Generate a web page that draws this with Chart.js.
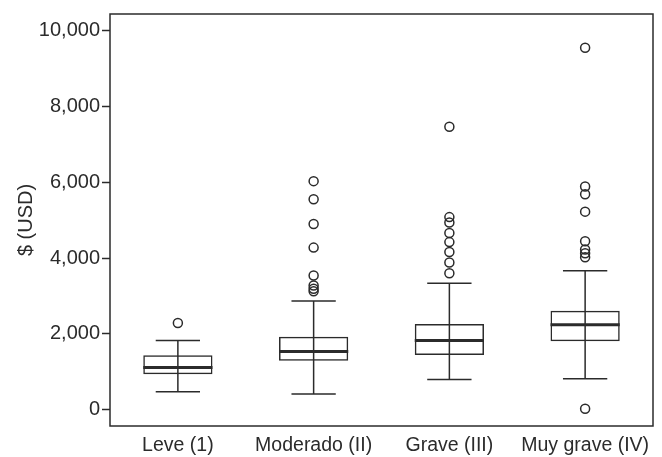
<!DOCTYPE html>
<html>
<head>
<meta charset="utf-8">
<script src="https://cdn.jsdelivr.net/npm/chart.js@4.4.0/dist/chart.umd.min.js"></script>
<style>
  html, body { margin: 0; padding: 0; background: #fff; }
  #wrap { width: 662px; height: 457px; }
</style>
</head>
<body>
<div id="wrap"><canvas id="myChart"></canvas></div>
<script>
const categories = ['Leve (1)', 'Moderado (II)', 'Grave (III)', 'Muy grave (IV)'];
const whiskerLow = [470, 410, 790, 815];
const q1 = [930, 1285, 1440, 1805];
const median = [1110, 1530, 1825, 2240];
const q3 = [1430, 1920, 2255, 2605];
const whiskerHigh = [1825, 2865, 3335, 3665];

const leveOut = [2285];
const moderadoOut = [6030, 5550, 4900, 4275, 3540, 3275, 3190, 3120];
const graveOut = [7465, 5080, 4940, 4660, 4420, 4160, 3880, 3600];
const muyGraveOut = [9550, 5890, 5685, 5225, 4445, 4225, 4125, 4020, 20];

const yTicks = [0, 2000, 4000, 6000, 8000, 10000];

const ink = '#2b2b2b';
const font = "'Liberation Sans', Arial, sans-serif";

// outlier points as {x: category, y: value}
const outlierLists = [leveOut, moderadoOut, graveOut, muyGraveOut];
const outlierPoints = [];
outlierLists.forEach((list, i) => {
  list.forEach(v => outlierPoints.push({ x: categories[i], y: v }));
});

// whiskers, caps and medians drawn with the chart's own scales
const boxExtras = {
  id: 'boxExtras',
  beforeDatasetsDraw(chart) {
    const ctx = chart.ctx;
    const xs = chart.scales.x;
    const ys = chart.scales.y;
    const bars = chart.getDatasetMeta(0).data;
    ctx.save();
    ctx.strokeStyle = ink;
    ctx.lineWidth = 1.5;
    categories.forEach((c, i) => {
      const x = xs.getPixelForValue(i);
      const capHalf = bars[i].width * 0.32;
      const top = ys.getPixelForValue(whiskerHigh[i]);
      const bot = ys.getPixelForValue(whiskerLow[i]);
      ctx.beginPath();
      ctx.moveTo(x, top);
      ctx.lineTo(x, bot);
      ctx.moveTo(x - capHalf, top);
      ctx.lineTo(x + capHalf, top);
      ctx.moveTo(x - capHalf, bot);
      ctx.lineTo(x + capHalf, bot);
      ctx.stroke();
    });
    ctx.restore();
  },
  afterDatasetsDraw(chart) {
    const ctx = chart.ctx;
    const xs = chart.scales.x;
    const ys = chart.scales.y;
    const bars = chart.getDatasetMeta(0).data;
    ctx.save();
    ctx.strokeStyle = ink;
    ctx.lineWidth = 3;
    categories.forEach((c, i) => {
      const x = xs.getPixelForValue(i);
      const half = bars[i].width / 2;
      const y = ys.getPixelForValue(median[i]);
      ctx.beginPath();
      ctx.moveTo(x - half, y);
      ctx.lineTo(x + half, y);
      ctx.stroke();
    });
    ctx.restore();
  }
};

// frame round the plot area
const frame = {
  id: 'frame',
  afterDraw(chart) {
    const a = chart.chartArea;
    const ctx = chart.ctx;
    ctx.save();
    ctx.strokeStyle = ink;
    ctx.lineWidth = 1.5;
    ctx.strokeRect(a.left, a.top, a.right - a.left, a.bottom - a.top);
    ctx.restore();
  }
};

const ctx = document.getElementById('myChart');
new Chart(ctx, {
  type: 'bar',
  data: {
    labels: categories,
    datasets: [
      {
        label: 'box',
        data: q1.map((v, i) => [v, q3[i]]),
        backgroundColor: 'rgba(255,255,255,0)',
        borderColor: ink,
        borderWidth: 1.5,
        borderSkipped: false,
        barPercentage: 0.51,
        categoryPercentage: 1,
        order: 2
      },
      {
        type: 'scatter',
        label: 'outliers',
        data: outlierPoints,
        pointStyle: 'circle',
        pointRadius: 4.5,
        pointBackgroundColor: 'rgba(255,255,255,0)',
        pointBorderColor: ink,
        pointBorderWidth: 1.5,
        showLine: false,
        order: 1
      }
    ]
  },
  options: {
    responsive: true,
    maintainAspectRatio: false,
    animation: false,
    layout: { padding: { top: 8, right: 9, left: 0, bottom: 0 } },
    plugins: {
      legend: { display: false },
      tooltip: { enabled: false }
    },
    scales: {
      x: {
        grid: { display: false, drawTicks: false },
        border: { display: false },
        ticks: { color: ink, font: { family: font, size: 19.5 }, padding: 8, maxRotation: 0 },
        afterFit: s => { s.height = 31; }
      },
      y: {
        min: -435,
        max: 10443,
        afterBuildTicks: s => { s.ticks = yTicks.map(v => ({ value: v })); },
        grid: { drawOnChartArea: false, drawTicks: true, tickLength: 8, tickColor: ink, tickWidth: 1.5 },
        border: { display: false },
        ticks: {
          color: ink,
          font: { family: font, size: 20 },
          padding: 2,
          callback: v => v.toLocaleString('en-US')
        },
        title: {
          display: true,
          text: '$ (USD)',
          color: ink,
          font: { family: font, size: 20 },
          padding: { top: 14, bottom: 0 }
        },
        afterFit: s => { s.width = 110; }
      }
    }
  },
  plugins: [boxExtras, frame]
});
</script>
</body>
</html>
